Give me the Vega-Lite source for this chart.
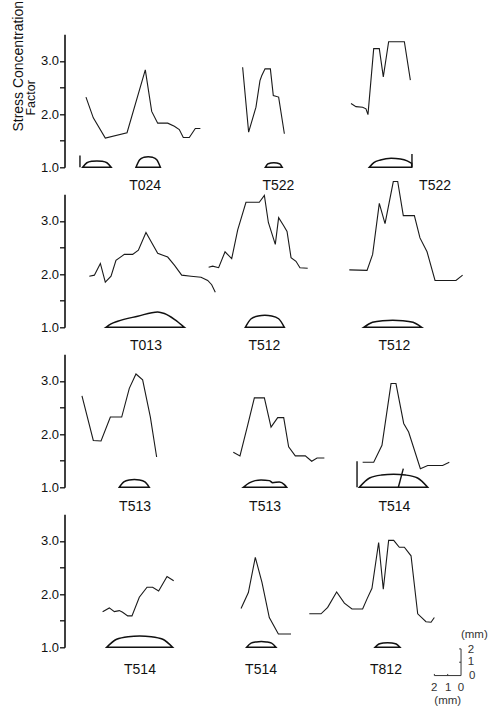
{
"$schema": "https://vega.github.io/schema/vega-lite/v6.json",
"background": "white",
"padding": {"left": 10.5, "top": 0.3, "right": 0, "bottom": 0},
"bounds": "flush",
"spacing": 27,
"config": {"view": {"stroke": null}, "font": "Liberation Sans"},
"datasets": {
"scf": [
{"row":1,"panel":"T024","x":1.61,"scf":2.32},{"row":1,"panel":"T024","x":2.16,"scf":1.93},{"row":1,"panel":"T024","x":3.06,"scf":1.55},{"row":1,"panel":"T024","x":4.69,"scf":1.65},{"row":1,"panel":"T024","x":6.06,"scf":2.83},{"row":1,"panel":"T024","x":6.54,"scf":2.05},{"row":1,"panel":"T024","x":6.99,"scf":1.83},{"row":1,"panel":"T024","x":7.74,"scf":1.83},{"row":1,"panel":"T024","x":8.24,"scf":1.77},{"row":1,"panel":"T024","x":8.61,"scf":1.71},{"row":1,"panel":"T024","x":8.91,"scf":1.56},{"row":1,"panel":"T024","x":9.36,"scf":1.56},{"row":1,"panel":"T024","x":9.81,"scf":1.73},{"row":1,"panel":"T024","x":10.19,"scf":1.73},
{"row":1,"panel":"T522a","x":13.36,"scf":2.88},{"row":1,"panel":"T522a","x":13.81,"scf":1.66},{"row":1,"panel":"T522a","x":14.36,"scf":2.13},{"row":1,"panel":"T522a","x":14.66,"scf":2.63},{"row":1,"panel":"T522a","x":14.79,"scf":2.72},{"row":1,"panel":"T522a","x":15.04,"scf":2.85},{"row":1,"panel":"T522a","x":15.44,"scf":2.85},{"row":1,"panel":"T522a","x":15.66,"scf":2.35},{"row":1,"panel":"T522a","x":16.06,"scf":2.32},{"row":1,"panel":"T522a","x":16.49,"scf":1.63},
{"row":1,"panel":"T522b","x":21.49,"scf":2.20},{"row":1,"panel":"T522b","x":21.86,"scf":2.14},{"row":1,"panel":"T522b","x":22.36,"scf":2.13},{"row":1,"panel":"T522b","x":22.61,"scf":2.10},{"row":1,"panel":"T522b","x":22.76,"scf":1.99},{"row":1,"panel":"T522b","x":23.19,"scf":3.23},{"row":1,"panel":"T522b","x":23.61,"scf":3.23},{"row":1,"panel":"T522b","x":23.91,"scf":2.70},{"row":1,"panel":"T522b","x":24.31,"scf":3.36},{"row":1,"panel":"T522b","x":25.49,"scf":3.36},{"row":1,"panel":"T522b","x":25.94,"scf":2.64},
{"row":2,"panel":"T013","x":1.86,"scf":1.96},{"row":2,"panel":"T013","x":2.24,"scf":1.98},{"row":2,"panel":"T013","x":2.69,"scf":2.20},{"row":2,"panel":"T013","x":3.06,"scf":1.85},{"row":2,"panel":"T013","x":3.49,"scf":1.96},{"row":2,"panel":"T013","x":3.86,"scf":2.26},{"row":2,"panel":"T013","x":4.49,"scf":2.37},{"row":2,"panel":"T013","x":5.11,"scf":2.37},{"row":2,"panel":"T013","x":5.54,"scf":2.45},{"row":2,"panel":"T013","x":6.11,"scf":2.78},{"row":2,"panel":"T013","x":6.99,"scf":2.39},{"row":2,"panel":"T013","x":7.74,"scf":2.32},{"row":2,"panel":"T013","x":8.24,"scf":2.17},{"row":2,"panel":"T013","x":8.79,"scf":1.98},{"row":2,"panel":"T013","x":9.49,"scf":1.96},{"row":2,"panel":"T013","x":10.24,"scf":1.94},{"row":2,"panel":"T013","x":10.74,"scf":1.88},{"row":2,"panel":"T013","x":11.04,"scf":1.80},{"row":2,"panel":"T013","x":11.31,"scf":1.66},
{"row":2,"panel":"T512a","x":10.81,"scf":2.13},{"row":2,"panel":"T512a","x":11.11,"scf":2.15},{"row":2,"panel":"T512a","x":11.56,"scf":2.12},{"row":2,"panel":"T512a","x":12.04,"scf":2.42},{"row":2,"panel":"T512a","x":12.54,"scf":2.29},{"row":2,"panel":"T512a","x":12.99,"scf":2.83},{"row":2,"panel":"T512a","x":13.61,"scf":3.35},{"row":2,"panel":"T512a","x":14.61,"scf":3.35},{"row":2,"panel":"T512a","x":14.99,"scf":3.48},{"row":2,"panel":"T512a","x":15.29,"scf":2.97},{"row":2,"panel":"T512a","x":15.81,"scf":2.56},{"row":2,"panel":"T512a","x":16.06,"scf":3.06},{"row":2,"panel":"T512a","x":16.44,"scf":2.91},{"row":2,"panel":"T512a","x":16.69,"scf":2.80},{"row":2,"panel":"T512a","x":16.99,"scf":2.31},{"row":2,"panel":"T512a","x":17.36,"scf":2.24},{"row":2,"panel":"T512a","x":17.66,"scf":2.12},{"row":2,"panel":"T512a","x":18.24,"scf":2.11},
{"row":2,"panel":"T512b","x":21.36,"scf":2.08},{"row":2,"panel":"T512b","x":22.69,"scf":2.07},{"row":2,"panel":"T512b","x":23.11,"scf":2.37},{"row":2,"panel":"T512b","x":23.61,"scf":3.33},{"row":2,"panel":"T512b","x":24.04,"scf":2.95},{"row":2,"panel":"T512b","x":24.66,"scf":3.74},{"row":2,"panel":"T512b","x":24.99,"scf":3.74},{"row":2,"panel":"T512b","x":25.41,"scf":3.10},{"row":2,"panel":"T512b","x":26.24,"scf":3.10},{"row":2,"panel":"T512b","x":26.66,"scf":2.68},{"row":2,"panel":"T512b","x":27.19,"scf":2.42},{"row":2,"panel":"T512b","x":27.79,"scf":1.88},{"row":2,"panel":"T512b","x":29.36,"scf":1.88},{"row":2,"panel":"T512b","x":29.86,"scf":1.98},
{"row":3,"panel":"T513a","x":1.31,"scf":2.72},{"row":3,"panel":"T513a","x":2.16,"scf":1.88},{"row":3,"panel":"T513a","x":2.74,"scf":1.87},{"row":3,"panel":"T513a","x":3.44,"scf":2.32},{"row":3,"panel":"T513a","x":4.29,"scf":2.32},{"row":3,"panel":"T513a","x":4.86,"scf":2.86},{"row":3,"panel":"T513a","x":5.36,"scf":3.13},{"row":3,"panel":"T513a","x":5.86,"scf":3.02},{"row":3,"panel":"T513a","x":6.44,"scf":2.32},{"row":3,"panel":"T513a","x":6.91,"scf":1.57},
{"row":3,"panel":"T513b","x":12.66,"scf":1.66},{"row":3,"panel":"T513b","x":13.16,"scf":1.59},{"row":3,"panel":"T513b","x":13.74,"scf":2.17},{"row":3,"panel":"T513b","x":14.24,"scf":2.68},{"row":3,"panel":"T513b","x":14.99,"scf":2.68},{"row":3,"panel":"T513b","x":15.49,"scf":2.13},{"row":3,"panel":"T513b","x":15.99,"scf":2.31},{"row":3,"panel":"T513b","x":16.44,"scf":2.31},{"row":3,"panel":"T513b","x":16.81,"scf":1.76},{"row":3,"panel":"T513b","x":17.31,"scf":1.59},{"row":3,"panel":"T513b","x":18.06,"scf":1.59},{"row":3,"panel":"T513b","x":18.54,"scf":1.49},{"row":3,"panel":"T513b","x":18.94,"scf":1.55},{"row":3,"panel":"T513b","x":19.49,"scf":1.55},
{"row":3,"panel":"T514","x":22.36,"scf":1.47},{"row":3,"panel":"T514","x":23.19,"scf":1.47},{"row":3,"panel":"T514","x":23.81,"scf":1.79},{"row":3,"panel":"T514","x":24.49,"scf":2.95},{"row":3,"panel":"T514","x":24.86,"scf":2.95},{"row":3,"panel":"T514","x":25.44,"scf":2.20},{"row":3,"panel":"T514","x":25.81,"scf":2.04},{"row":3,"panel":"T514","x":26.69,"scf":1.35},{"row":3,"panel":"T514","x":27.24,"scf":1.41},{"row":3,"panel":"T514","x":28.36,"scf":1.41},{"row":3,"panel":"T514","x":28.86,"scf":1.47},
{"row":4,"panel":"T514a","x":2.86,"scf":1.67},{"row":4,"panel":"T514a","x":3.36,"scf":1.74},{"row":4,"panel":"T514a","x":3.74,"scf":1.67},{"row":4,"panel":"T514a","x":4.11,"scf":1.69},{"row":4,"panel":"T514a","x":4.36,"scf":1.66},{"row":4,"panel":"T514a","x":4.74,"scf":1.59},{"row":4,"panel":"T514a","x":5.06,"scf":1.59},{"row":4,"panel":"T514a","x":5.61,"scf":1.94},{"row":4,"panel":"T514a","x":6.19,"scf":2.13},{"row":4,"panel":"T514a","x":6.61,"scf":2.13},{"row":4,"panel":"T514a","x":7.06,"scf":2.06},{"row":4,"panel":"T514a","x":7.69,"scf":2.33},{"row":4,"panel":"T514a","x":8.19,"scf":2.25},
{"row":4,"panel":"T514b","x":13.24,"scf":1.73},{"row":4,"panel":"T514b","x":13.79,"scf":2.03},{"row":4,"panel":"T514b","x":14.31,"scf":2.69},{"row":4,"panel":"T514b","x":14.81,"scf":2.22},{"row":4,"panel":"T514b","x":15.36,"scf":1.56},{"row":4,"panel":"T514b","x":16.04,"scf":1.25},{"row":4,"panel":"T514b","x":16.99,"scf":1.25},
{"row":4,"panel":"T812","x":18.36,"scf":1.63},{"row":4,"panel":"T812","x":19.24,"scf":1.63},{"row":4,"panel":"T812","x":19.74,"scf":1.75},{"row":4,"panel":"T812","x":20.41,"scf":2.04},{"row":4,"panel":"T812","x":20.99,"scf":1.83},{"row":4,"panel":"T812","x":21.56,"scf":1.72},{"row":4,"panel":"T812","x":22.36,"scf":1.72},{"row":4,"panel":"T812","x":22.69,"scf":1.91},{"row":4,"panel":"T812","x":23.06,"scf":2.11},{"row":4,"panel":"T812","x":23.56,"scf":2.97},{"row":4,"panel":"T812","x":23.91,"scf":2.09},{"row":4,"panel":"T812","x":24.31,"scf":3.01},{"row":4,"panel":"T812","x":24.69,"scf":3.01},{"row":4,"panel":"T812","x":25.11,"scf":2.88},{"row":4,"panel":"T812","x":25.49,"scf":2.88},{"row":4,"panel":"T812","x":25.99,"scf":2.72},{"row":4,"panel":"T812","x":26.49,"scf":1.63},{"row":4,"panel":"T812","x":27.11,"scf":1.48},{"row":4,"panel":"T812","x":27.49,"scf":1.47},{"row":4,"panel":"T812","x":27.74,"scf":1.56}
],
"profile": [
{"row":1,"panel":"p1","x":1.36,"h":0},{"row":1,"panel":"p1","x":1.68,"h":0.34},{"row":1,"panel":"p1","x":2.06,"h":0.45},{"row":1,"panel":"p1","x":2.43,"h":0.48},{"row":1,"panel":"p1","x":2.80,"h":0.45},{"row":1,"panel":"p1","x":3.18,"h":0.34},{"row":1,"panel":"p1","x":3.50,"h":0},
{"row":1,"panel":"p2","x":5.36,"h":0},{"row":1,"panel":"p2","x":5.64,"h":0.57},{"row":1,"panel":"p2","x":5.96,"h":0.75},{"row":1,"panel":"p2","x":6.28,"h":0.8},{"row":1,"panel":"p2","x":6.60,"h":0.75},{"row":1,"panel":"p2","x":6.92,"h":0.57},{"row":1,"panel":"p2","x":7.19,"h":0},
{"row":1,"panel":"p3","x":15.06,"h":0},{"row":1,"panel":"p3","x":15.25,"h":0.25},{"row":1,"panel":"p3","x":15.48,"h":0.33},{"row":1,"panel":"p3","x":15.70,"h":0.35},{"row":1,"panel":"p3","x":15.92,"h":0.33},{"row":1,"panel":"p3","x":16.15,"h":0.25},{"row":1,"panel":"p3","x":16.33,"h":0},
{"row":1,"panel":"p4","x":22.86,"h":0},{"row":1,"panel":"p4","x":23.2,"h":0.35},{"row":1,"panel":"p4","x":23.7,"h":0.55},{"row":1,"panel":"p4","x":24.5,"h":0.68},{"row":1,"panel":"p4","x":25.2,"h":0.62},{"row":1,"panel":"p4","x":25.7,"h":0.48},{"row":1,"panel":"p4","x":26.04,"h":0.3},
{"row":2,"panel":"p5","x":3.11,"h":0},{"row":2,"panel":"p5","x":3.49,"h":0.25},{"row":2,"panel":"p5","x":3.99,"h":0.45},{"row":2,"panel":"p5","x":5.49,"h":0.83},{"row":2,"panel":"p5","x":6.99,"h":1.15},{"row":2,"panel":"p5","x":7.49,"h":1.03},{"row":2,"panel":"p5","x":8.24,"h":0.6},{"row":2,"panel":"p5","x":8.99,"h":0},
{"row":2,"panel":"p6","x":13.56,"h":0},{"row":2,"panel":"p6","x":14.00,"h":0.64},{"row":2,"panel":"p6","x":14.52,"h":0.85},{"row":2,"panel":"p6","x":15.03,"h":0.9},{"row":2,"panel":"p6","x":15.54,"h":0.85},{"row":2,"panel":"p6","x":16.06,"h":0.64},{"row":2,"panel":"p6","x":16.49,"h":0},
{"row":2,"panel":"p7","x":22.44,"h":0},{"row":2,"panel":"p7","x":23.10,"h":0.38},{"row":2,"panel":"p7","x":23.86,"h":0.5},{"row":2,"panel":"p7","x":24.62,"h":0.53},{"row":2,"panel":"p7","x":25.38,"h":0.5},{"row":2,"panel":"p7","x":26.14,"h":0.38},{"row":2,"panel":"p7","x":26.79,"h":0},
{"row":3,"panel":"p8","x":4.11,"h":0},{"row":3,"panel":"p8","x":4.45,"h":0.41},{"row":3,"panel":"p8","x":4.85,"h":0.55},{"row":3,"panel":"p8","x":5.24,"h":0.58},{"row":3,"panel":"p8","x":5.63,"h":0.55},{"row":3,"panel":"p8","x":6.03,"h":0.41},{"row":3,"panel":"p8","x":6.36,"h":0},
{"row":3,"panel":"p9","x":13.41,"h":0},{"row":3,"panel":"p9","x":13.86,"h":0.33},{"row":3,"panel":"p9","x":14.3,"h":0.5},{"row":3,"panel":"p9","x":14.74,"h":0.55},{"row":3,"panel":"p9","x":15.36,"h":0.5},{"row":3,"panel":"p9","x":15.61,"h":0.35},{"row":3,"panel":"p9","x":16.11,"h":0.4},{"row":3,"panel":"p9","x":16.49,"h":0.2},{"row":3,"panel":"p9","x":16.66,"h":0},
{"row":3,"panel":"p10","x":22.11,"h":0},{"row":3,"panel":"p10","x":22.88,"h":0.7},{"row":3,"panel":"p10","x":23.78,"h":0.92},{"row":3,"panel":"p10","x":24.68,"h":0.98},{"row":3,"panel":"p10","x":25.58,"h":0.92},{"row":3,"panel":"p10","x":26.48,"h":0.7},{"row":3,"panel":"p10","x":27.24,"h":0},
{"row":4,"panel":"p11","x":3.16,"h":0},{"row":4,"panel":"p11","x":3.91,"h":0.6},{"row":4,"panel":"p11","x":4.77,"h":0.8},{"row":4,"panel":"p11","x":5.64,"h":0.85},{"row":4,"panel":"p11","x":6.51,"h":0.8},{"row":4,"panel":"p11","x":7.37,"h":0.6},{"row":4,"panel":"p11","x":8.11,"h":0},
{"row":4,"panel":"p12","x":13.66,"h":0},{"row":4,"panel":"p12","x":13.99,"h":0.31},{"row":4,"panel":"p12","x":14.38,"h":0.4},{"row":4,"panel":"p12","x":14.76,"h":0.43},{"row":4,"panel":"p12","x":15.14,"h":0.4},{"row":4,"panel":"p12","x":15.53,"h":0.31},{"row":4,"panel":"p12","x":15.86,"h":0},
{"row":4,"panel":"p13","x":23.29,"h":0},{"row":4,"panel":"p13","x":23.58,"h":0.25},{"row":4,"panel":"p13","x":23.90,"h":0.33},{"row":4,"panel":"p13","x":24.23,"h":0.35},{"row":4,"panel":"p13","x":24.56,"h":0.33},{"row":4,"panel":"p13","x":24.88,"h":0.25},{"row":4,"panel":"p13","x":25.16,"h":0}
],
"rules": [
{"row":1,"x":1.16,"x2":1.16,"h":0,"h2":0.88},{"row":1,"x":26.06,"x2":26.06,"h":0,"h2":1.0},
{"row":3,"x":21.94,"x2":21.94,"h":0,"h2":1.95},{"row":3,"x":25.04,"x2":25.41,"h":0,"h2":1.4}
],
"labels": [
{"row":1,"x":6.05,"h":-1.37,"label":"T024"},{"row":1,"x":16.04,"h":-1.37,"label":"T522"},{"row":1,"x":27.79,"h":-1.37,"label":"T522"},
{"row":2,"x":6.11,"h":-1.37,"label":"T013"},{"row":2,"x":14.99,"h":-1.37,"label":"T512"},{"row":2,"x":24.74,"h":-1.37,"label":"T512"},
{"row":3,"x":5.29,"h":-1.5,"label":"T513"},{"row":3,"x":15.04,"h":-1.5,"label":"T513"},{"row":3,"x":24.74,"h":-1.5,"label":"T514"},
{"row":4,"x":5.66,"h":-1.67,"label":"T514"},{"row":4,"x":14.74,"h":-1.67,"label":"T514"},{"row":4,"x":24.11,"h":-1.67,"label":"T812"}
],
"scalebar": [
{"x":29.74,"x2":29.74,"h":-2.12,"h2":-0.12},{"x":27.74,"x2":29.74,"h":-2.12,"h2":-2.12},
{"x":29.6,"x2":29.74,"h":-1.12,"h2":-1.12},{"x":29.6,"x2":29.74,"h":-0.12,"h2":-0.12},
{"x":28.74,"x2":28.74,"h":-2.12,"h2":-2.0},{"x":27.74,"x2":27.74,"h":-2.12,"h2":-2.0}
],
"scaletext": [
{"x":30.49,"h":-0.2,"t":"2"},{"x":30.49,"h":-1.12,"t":"1"},{"x":30.58,"h":-2.12,"t":"0"},
{"x":27.72,"h":-3.08,"t":"2"},{"x":28.77,"h":-3.08,"t":"1"},{"x":29.74,"h":-3.08,"t":"0"},
{"x":30.74,"h":0.9,"t":"(mm)"},{"x":28.74,"h":-4.05,"t":"(mm)"}
]
},
"vconcat": [
{
"width": 425, "height": 133,
"resolve": {"scale": {"y": "independent"}},
"layer": [
{"data": {"name": "scf"}, "transform": [{"filter": "datum.row == 1"}],
 "mark": {"type": "line", "color": "#1a1a1a", "strokeWidth": 1.1},
 "encoding": {"x": {"field": "x", "type": "quantitative", "scale": {"domain": [0, 31.875], "nice": false, "zero": false}, "axis": null},
  "y": {"field": "scf", "type": "quantitative", "scale": {"domain": [1, 3.5], "nice": false, "zero": false},
   "axis": {"values": [1, 1.5, 2, 2.5, 3], "labelExpr": "datum.value % 1 == 0 ? format(datum.value, '.1f') : ''", "title": null, "grid": false, "domainColor": "#111", "domainWidth": 1.6, "tickColor": "#111", "tickWidth": 1.3, "tickSize": 5, "labelFont": "Liberation Sans", "labelFontSize": 13, "labelColor": "#111", "labelPadding": 1}},
  "detail": {"field": "panel"}}},
{"data": {"name": "profile"}, "transform": [{"filter": "datum.row == 1"}],
 "mark": {"type": "area", "interpolate": "monotone", "fill": "white", "fillOpacity": 0, "stroke": "#111", "strokeWidth": 1.5},
 "encoding": {"x": {"field": "x", "type": "quantitative"}, "y": {"field": "h", "type": "quantitative", "stack": null, "scale": {"domain": [0, 9.975], "nice": false}, "axis": null}, "detail": {"field": "panel"}}},
{"data": {"name": "rules"}, "transform": [{"filter": "datum.row == 1"}],
 "mark": {"type": "rule", "color": "#111", "strokeWidth": 1.4},
 "encoding": {"x": {"field": "x", "type": "quantitative"}, "x2": {"field": "x2"}, "y": {"field": "h", "type": "quantitative", "scale": {"domain": [0, 9.975], "nice": false}, "axis": null}, "y2": {"field": "h2"}}},
{"data": {"name": "labels"}, "transform": [{"filter": "datum.row == 1"}],
 "mark": {"type": "text", "font": "Liberation Sans", "fontSize": 14, "color": "#111", "baseline": "middle", "align": "center"},
 "encoding": {"x": {"field": "x", "type": "quantitative"}, "y": {"field": "h", "type": "quantitative", "scale": {"domain": [0, 9.975], "nice": false}, "axis": null}, "text": {"field": "label"}}},
{"data": {"values": [{"x": -3.45, "h": 2.68, "t": "Stress Concentration"}]},
 "mark": {"type": "text", "font": "Liberation Sans", "fontSize": 14, "color": "#111", "angle": 270, "baseline": "middle", "align": "left"},
 "encoding": {"x": {"field": "x", "type": "quantitative"}, "y": {"field": "h", "type": "quantitative", "scale": {"domain": [0, 9.975], "nice": false}, "axis": null}, "text": {"field": "t"}}},
{"data": {"values": [{"x": -2.51, "h": 3.88, "t": "Factor"}]},
 "mark": {"type": "text", "font": "Liberation Sans", "fontSize": 12.5, "color": "#111", "angle": 270, "baseline": "middle", "align": "left"},
 "encoding": {"x": {"field": "x", "type": "quantitative"}, "y": {"field": "h", "type": "quantitative", "scale": {"domain": [0, 9.975], "nice": false}, "axis": null}, "text": {"field": "t"}}}
]
},
{
"width": 425, "height": 133,
"resolve": {"scale": {"y": "independent"}},
"layer": [
{"data": {"name": "scf"}, "transform": [{"filter": "datum.row == 2"}],
 "mark": {"type": "line", "color": "#1a1a1a", "strokeWidth": 1.1},
 "encoding": {"x": {"field": "x", "type": "quantitative", "scale": {"domain": [0, 31.875], "nice": false, "zero": false}, "axis": null},
  "y": {"field": "scf", "type": "quantitative", "scale": {"domain": [1, 3.5], "nice": false, "zero": false},
   "axis": {"values": [1, 1.5, 2, 2.5, 3], "labelExpr": "datum.value % 1 == 0 ? format(datum.value, '.1f') : ''", "title": null, "grid": false, "domainColor": "#111", "domainWidth": 1.6, "tickColor": "#111", "tickWidth": 1.3, "tickSize": 5, "labelFont": "Liberation Sans", "labelFontSize": 13, "labelColor": "#111", "labelPadding": 1}},
  "detail": {"field": "panel"}}},
{"data": {"name": "profile"}, "transform": [{"filter": "datum.row == 2"}],
 "mark": {"type": "area", "interpolate": "monotone", "fill": "white", "fillOpacity": 0, "stroke": "#111", "strokeWidth": 1.5},
 "encoding": {"x": {"field": "x", "type": "quantitative"}, "y": {"field": "h", "type": "quantitative", "stack": null, "scale": {"domain": [0, 9.975], "nice": false}, "axis": null}, "detail": {"field": "panel"}}},
{"data": {"name": "labels"}, "transform": [{"filter": "datum.row == 2"}],
 "mark": {"type": "text", "font": "Liberation Sans", "fontSize": 14, "color": "#111", "baseline": "middle", "align": "center"},
 "encoding": {"x": {"field": "x", "type": "quantitative"}, "y": {"field": "h", "type": "quantitative", "scale": {"domain": [0, 9.975], "nice": false}, "axis": null}, "text": {"field": "label"}}}
]
},
{
"width": 425, "height": 133,
"resolve": {"scale": {"y": "independent"}},
"layer": [
{"data": {"name": "scf"}, "transform": [{"filter": "datum.row == 3"}],
 "mark": {"type": "line", "color": "#1a1a1a", "strokeWidth": 1.1},
 "encoding": {"x": {"field": "x", "type": "quantitative", "scale": {"domain": [0, 31.875], "nice": false, "zero": false}, "axis": null},
  "y": {"field": "scf", "type": "quantitative", "scale": {"domain": [1, 3.5], "nice": false, "zero": false},
   "axis": {"values": [1, 1.5, 2, 2.5, 3], "labelExpr": "datum.value % 1 == 0 ? format(datum.value, '.1f') : ''", "title": null, "grid": false, "domainColor": "#111", "domainWidth": 1.6, "tickColor": "#111", "tickWidth": 1.3, "tickSize": 5, "labelFont": "Liberation Sans", "labelFontSize": 13, "labelColor": "#111", "labelPadding": 1}},
  "detail": {"field": "panel"}}},
{"data": {"name": "profile"}, "transform": [{"filter": "datum.row == 3"}],
 "mark": {"type": "area", "interpolate": "monotone", "fill": "white", "fillOpacity": 0, "stroke": "#111", "strokeWidth": 1.5},
 "encoding": {"x": {"field": "x", "type": "quantitative"}, "y": {"field": "h", "type": "quantitative", "stack": null, "scale": {"domain": [0, 9.975], "nice": false}, "axis": null}, "detail": {"field": "panel"}}},
{"data": {"name": "rules"}, "transform": [{"filter": "datum.row == 3"}],
 "mark": {"type": "rule", "color": "#111", "strokeWidth": 1.4},
 "encoding": {"x": {"field": "x", "type": "quantitative"}, "x2": {"field": "x2"}, "y": {"field": "h", "type": "quantitative", "scale": {"domain": [0, 9.975], "nice": false}, "axis": null}, "y2": {"field": "h2"}}},
{"data": {"name": "labels"}, "transform": [{"filter": "datum.row == 3"}],
 "mark": {"type": "text", "font": "Liberation Sans", "fontSize": 14, "color": "#111", "baseline": "middle", "align": "center"},
 "encoding": {"x": {"field": "x", "type": "quantitative"}, "y": {"field": "h", "type": "quantitative", "scale": {"domain": [0, 9.975], "nice": false}, "axis": null}, "text": {"field": "label"}}}
]
},
{
"width": 425, "height": 133,
"resolve": {"scale": {"y": "independent"}},
"layer": [
{"data": {"name": "scf"}, "transform": [{"filter": "datum.row == 4"}],
 "mark": {"type": "line", "color": "#1a1a1a", "strokeWidth": 1.1},
 "encoding": {"x": {"field": "x", "type": "quantitative", "scale": {"domain": [0, 31.875], "nice": false, "zero": false}, "axis": null},
  "y": {"field": "scf", "type": "quantitative", "scale": {"domain": [1, 3.5], "nice": false, "zero": false},
   "axis": {"values": [1, 1.5, 2, 2.5, 3], "labelExpr": "datum.value % 1 == 0 ? format(datum.value, '.1f') : ''", "title": null, "grid": false, "domainColor": "#111", "domainWidth": 1.6, "tickColor": "#111", "tickWidth": 1.3, "tickSize": 5, "labelFont": "Liberation Sans", "labelFontSize": 13, "labelColor": "#111", "labelPadding": 1}},
  "detail": {"field": "panel"}}},
{"data": {"name": "profile"}, "transform": [{"filter": "datum.row == 4"}],
 "mark": {"type": "area", "interpolate": "monotone", "fill": "white", "fillOpacity": 0, "stroke": "#111", "strokeWidth": 1.5},
 "encoding": {"x": {"field": "x", "type": "quantitative"}, "y": {"field": "h", "type": "quantitative", "stack": null, "scale": {"domain": [0, 9.975], "nice": false}, "axis": null}, "detail": {"field": "panel"}}},
{"data": {"name": "labels"}, "transform": [{"filter": "datum.row == 4"}],
 "mark": {"type": "text", "font": "Liberation Sans", "fontSize": 14, "color": "#111", "baseline": "middle", "align": "center"},
 "encoding": {"x": {"field": "x", "type": "quantitative"}, "y": {"field": "h", "type": "quantitative", "scale": {"domain": [0, 9.975], "nice": false}, "axis": null}, "text": {"field": "label"}}},
{"data": {"name": "scalebar"},
 "mark": {"type": "rule", "color": "#333", "strokeWidth": 1},
 "encoding": {"x": {"field": "x", "type": "quantitative"}, "x2": {"field": "x2"}, "y": {"field": "h", "type": "quantitative", "scale": {"domain": [0, 9.975], "nice": false}, "axis": null}, "y2": {"field": "h2"}}},
{"data": {"name": "scaletext"},
 "mark": {"type": "text", "font": "Liberation Sans", "fontSize": 11.5, "color": "#333", "baseline": "middle", "align": "center"},
 "encoding": {"x": {"field": "x", "type": "quantitative"}, "y": {"field": "h", "type": "quantitative", "scale": {"domain": [0, 9.975], "nice": false}, "axis": null}, "text": {"field": "t"}}}
]
}
]
}
